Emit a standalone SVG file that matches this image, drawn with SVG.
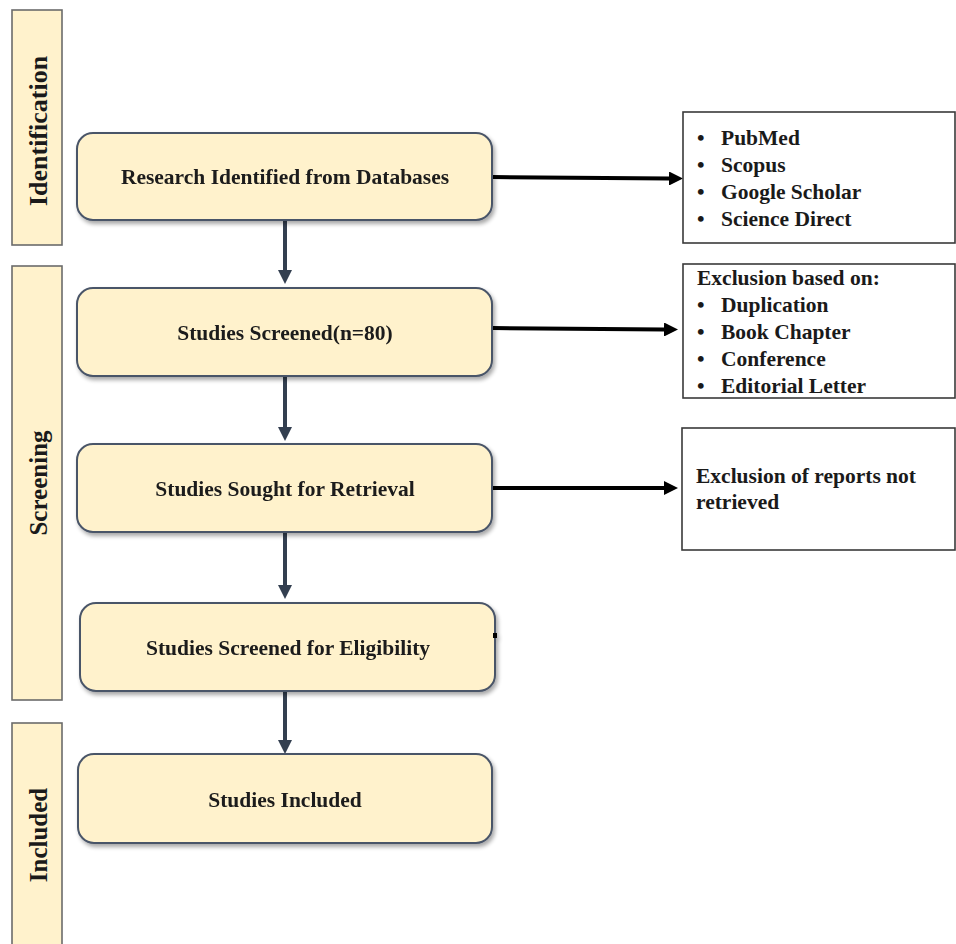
<svg xmlns="http://www.w3.org/2000/svg" width="956" height="944" viewBox="0 0 956 944">
  <style>
    .bar { fill: #fff2cc; stroke: #6b6b6b; stroke-width: 1.6; }
    .bar-label { font-family: "Liberation Serif", "Times New Roman", serif; font-weight: bold; font-size: 25px; fill: #1a1a1a; text-anchor: middle; }
    .step { fill: #fff2cc; stroke: #4a5568; stroke-width: 2; }
    .step-label { font-family: "Liberation Serif", "Times New Roman", serif; font-weight: bold; font-size: 21.5px; fill: #1a1a1a; text-anchor: middle; }
    .side { fill: #ffffff; stroke: #3a3a3a; stroke-width: 1.6; }
    .side-text { font-family: "Liberation Serif", "Times New Roman", serif; font-weight: bold; font-size: 21.5px; fill: #1a1a1a; }
    .down { stroke: #333f50; stroke-width: 4; fill: none; }
    .across { stroke: #000000; stroke-width: 4; fill: none; }
  </style>
  <defs>
    <marker id="headDown" markerUnits="userSpaceOnUse" markerWidth="14" markerHeight="14" refX="0" refY="7" orient="auto">
      <path d="M0,0 L14,7 L0,14 Z" fill="#333f50"/>
    </marker>
    <marker id="headAcross" markerUnits="userSpaceOnUse" markerWidth="14" markerHeight="14" refX="0" refY="7" orient="auto">
      <path d="M0,0 L14,7 L0,14 Z" fill="#000000"/>
    </marker>
    <filter id="shadow" x="-5%" y="-10%" width="112%" height="130%">
      <feGaussianBlur in="SourceAlpha" stdDeviation="2"/>
      <feOffset dx="2" dy="3" result="off"/>
      <feComponentTransfer><feFuncA type="linear" slope="0.35"/></feComponentTransfer>
      <feMerge><feMergeNode/><feMergeNode in="SourceGraphic"/></feMerge>
    </filter>
  </defs>

  <rect width="956" height="944" fill="#ffffff"/>

  <!-- phase bars -->
  <g id="phase-identification">
    <rect class="bar" x="12" y="10" width="50" height="235"/>
    <text class="bar-label" transform="translate(47,131) rotate(-90)" style="font-size:26px">Identification</text>
  </g>
  <g id="phase-screening">
    <rect class="bar" x="12" y="266" width="50" height="434"/>
    <text class="bar-label" transform="translate(47,483) rotate(-90)">Screening</text>
  </g>
  <g id="phase-included">
    <rect class="bar" x="12" y="723" width="50" height="230"/>
    <text class="bar-label" transform="translate(47,835) rotate(-90)">Included</text>
  </g>

  <!-- connectors -->
  <g id="connectors">
    <line class="down" x1="285" y1="221" x2="285" y2="270" marker-end="url(#headDown)"/>
    <line class="down" x1="285" y1="377" x2="285" y2="427" marker-end="url(#headDown)"/>
    <line class="down" x1="285" y1="533" x2="285" y2="585" marker-end="url(#headDown)"/>
    <line class="down" x1="285" y1="692" x2="285" y2="740" marker-end="url(#headDown)"/>
    <line class="across" x1="493" y1="177" x2="669" y2="178.5" marker-end="url(#headAcross)"/>
    <line class="across" x1="493" y1="328" x2="664" y2="329.5" marker-end="url(#headAcross)"/>
    <line class="across" x1="493" y1="488" x2="664" y2="488" marker-end="url(#headAcross)"/>
  </g>

  <!-- main steps -->
  <g id="step-identified" filter="url(#shadow)">
    <rect class="step" x="77" y="133" width="415" height="87" rx="16"/>
    <text class="step-label" x="285" y="184">Research Identified from Databases</text>
  </g>
  <g id="step-screened" filter="url(#shadow)">
    <rect class="step" x="77" y="288" width="415" height="88" rx="16"/>
    <text class="step-label" x="285" y="340">Studies Screened(n=80)</text>
  </g>
  <g id="step-retrieval" filter="url(#shadow)">
    <rect class="step" x="77" y="444" width="415" height="88" rx="16"/>
    <text class="step-label" x="285" y="496">Studies Sought for Retrieval</text>
  </g>
  <g id="step-eligibility" filter="url(#shadow)">
    <rect class="step" x="80" y="603" width="415" height="88" rx="16"/>
    <text class="step-label" x="288" y="655">Studies Screened for Eligibility</text>
    <rect x="493" y="633" width="4" height="5" fill="#000000"/>
  </g>
  <g id="step-included" filter="url(#shadow)">
    <rect class="step" x="78" y="754" width="414" height="89" rx="16"/>
    <text class="step-label" x="285" y="807">Studies Included</text>
  </g>

  <!-- side boxes -->
  <g id="side-sources">
    <rect class="side" x="683" y="112" width="272" height="131"/>
    <text class="side-text" x="697" y="145">•</text>
    <text class="side-text" x="721" y="145">PubMed</text>
    <text class="side-text" x="697" y="172">•</text>
    <text class="side-text" x="721" y="172">Scopus</text>
    <text class="side-text" x="697" y="199">•</text>
    <text class="side-text" x="721" y="199">Google Scholar</text>
    <text class="side-text" x="697" y="226">•</text>
    <text class="side-text" x="721" y="226">Science Direct</text>
  </g>
  <g id="side-exclusion">
    <rect class="side" x="683" y="264" width="272" height="134"/>
    <text class="side-text" x="697" y="285">Exclusion based on:</text>
    <text class="side-text" x="697" y="312">•</text>
    <text class="side-text" x="721" y="312">Duplication</text>
    <text class="side-text" x="697" y="339">•</text>
    <text class="side-text" x="721" y="339">Book Chapter</text>
    <text class="side-text" x="697" y="366">•</text>
    <text class="side-text" x="721" y="366">Conference</text>
    <text class="side-text" x="697" y="393">•</text>
    <text class="side-text" x="721" y="393">Editorial Letter</text>
  </g>
  <g id="side-not-retrieved">
    <rect class="side" x="682" y="428" width="273" height="122"/>
    <text class="side-text" x="696" y="483">Exclusion of reports not</text>
    <text class="side-text" x="696" y="509">retrieved</text>
  </g>
</svg>
